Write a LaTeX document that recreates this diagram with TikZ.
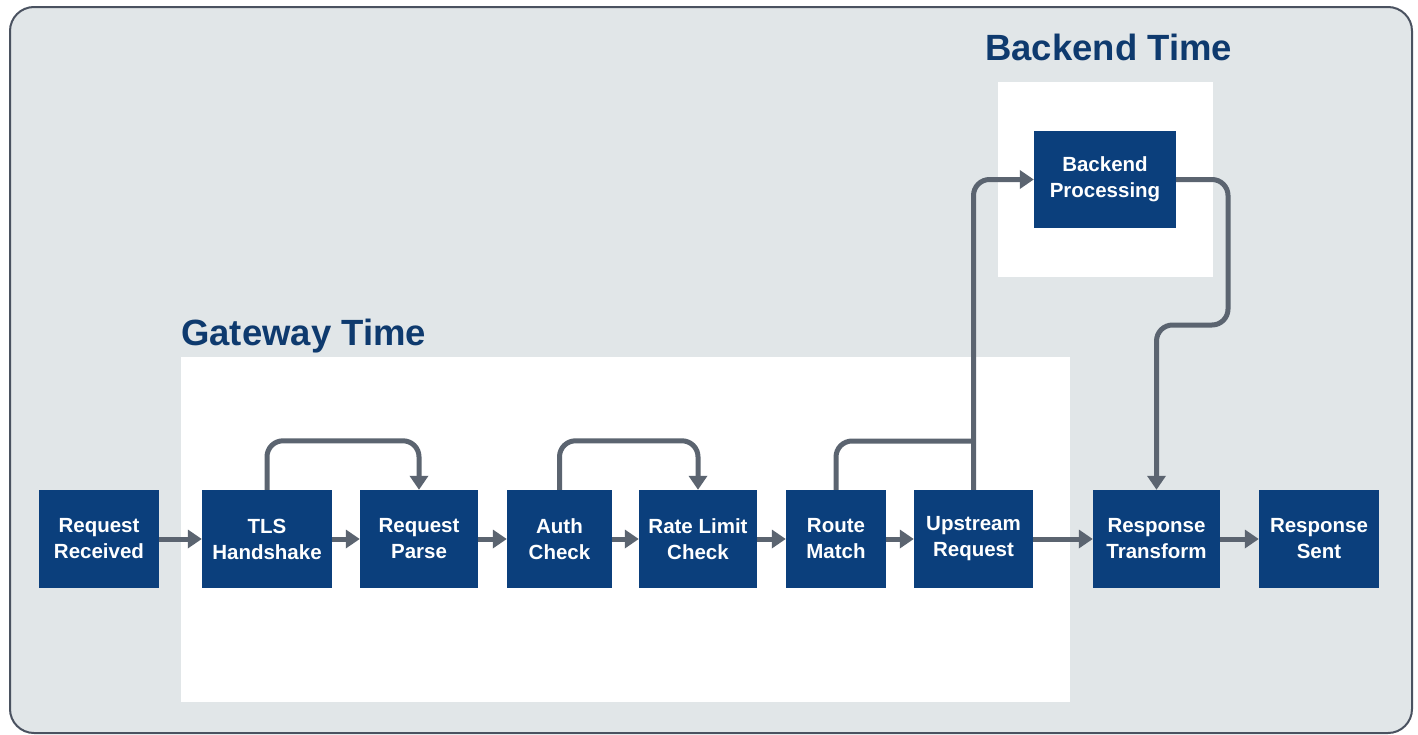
\documentclass[tikz,border=0pt]{standalone}
\usepackage{fontspec}
\setmainfont{Liberation Sans}
\usetikzlibrary{arrows.meta}
\definecolor{bgc}{HTML}{E1E6E8}
\definecolor{framec}{HTML}{4A5260}
\definecolor{navy}{HTML}{0B3F7C}
\definecolor{titlec}{HTML}{0E3A6E}
\definecolor{arrc}{HTML}{5B6470}
\tikzset{
  stepbox/.style={draw=none, fill=navy, text=white, font=\bfseries\fontsize{20.5}{26}\selectfont,
    align=center, inner sep=0pt, minimum height=98pt},
  conn/.style={draw=arrc, line width=5pt, rounded corners=16pt},
  arr/.style={conn, -{Triangle[length=14pt,width=18pt]}},
  zone/.style={fill=white, draw=none},
  ztitle/.style={text=titlec, font=\bfseries\fontsize{36.5}{40}\selectfont, inner sep=0pt}
}
\begin{document}
\begin{tikzpicture}[x=1pt,y=-1pt]
\useasboundingbox (0,0) rectangle (1418,734);
\draw[fill=bgc, draw=framec, line width=2pt, rounded corners=24pt] (10,7) rectangle (1412,733);
% zones
\fill[zone] (181,357) rectangle (1070,702);
\fill[zone] (998,82) rectangle (1213,277);
\node[ztitle, anchor=base west] (gt) at (181,345) {Gateway Time};
\node[ztitle, anchor=base west] (bt) at (985,60) {Backend Time};
% boxes
\node[stepbox, minimum width=120pt] (rr) at (99,539) {Request\\Received};
\node[stepbox, minimum width=130pt] (tls) at (267,539) {TLS\\Handshake};
\node[stepbox, minimum width=118pt] (rp) at (419,539) {Request\\Parse};
\node[stepbox, minimum width=105pt] (ac) at (559.5,539) {Auth\\Check};
\node[stepbox, minimum width=118pt] (rl) at (698,539) {Rate Limit\\Check};
\node[stepbox, minimum width=100pt] (rm) at (836,539) {Route\\Match};
\node[stepbox, minimum width=119pt] (ur) at (973.5,539) {Upstream\\Request};
\node[stepbox, minimum width=127pt] (rt) at (1156.5,539) {Response\\Transform};
\node[stepbox, minimum width=120pt] (rs) at (1319,539) {Response\\Sent};
\node[stepbox, minimum width=142pt, minimum height=97pt] (bp) at (1105,179.5) {Backend\\Processing};
% straight arrows
\draw[arr] (rr) -- (tls);
\draw[arr] (tls) -- (rp);
\draw[arr] (rp) -- (ac);
\draw[arr] (ac) -- (rl);
\draw[arr] (rl) -- (rm);
\draw[arr] (rm) -- (ur);
\draw[arr] (ur) -- (rt);
\draw[arr] (rt) -- (rs);
% loops
\draw[arr] (tls.north) -- ++(0,-49) -| (rp.north);
\draw[arr] (ac.north) -- ++(0,-49) -| (rl.north);
\coordinate (j) at (973.5,441);
\draw[conn] (rm.north) |- (j);
\draw[arr] (ur.north) |- (bp.west);
\coordinate (b1) at (1228,179.5);
\coordinate (b2) at (1228,325);
\coordinate (b3) at (1156.5,325);
\draw[arr] (bp.east) -- (b1) -- (b2) -- (b3) -- (rt.north);
\end{tikzpicture}
\end{document}
